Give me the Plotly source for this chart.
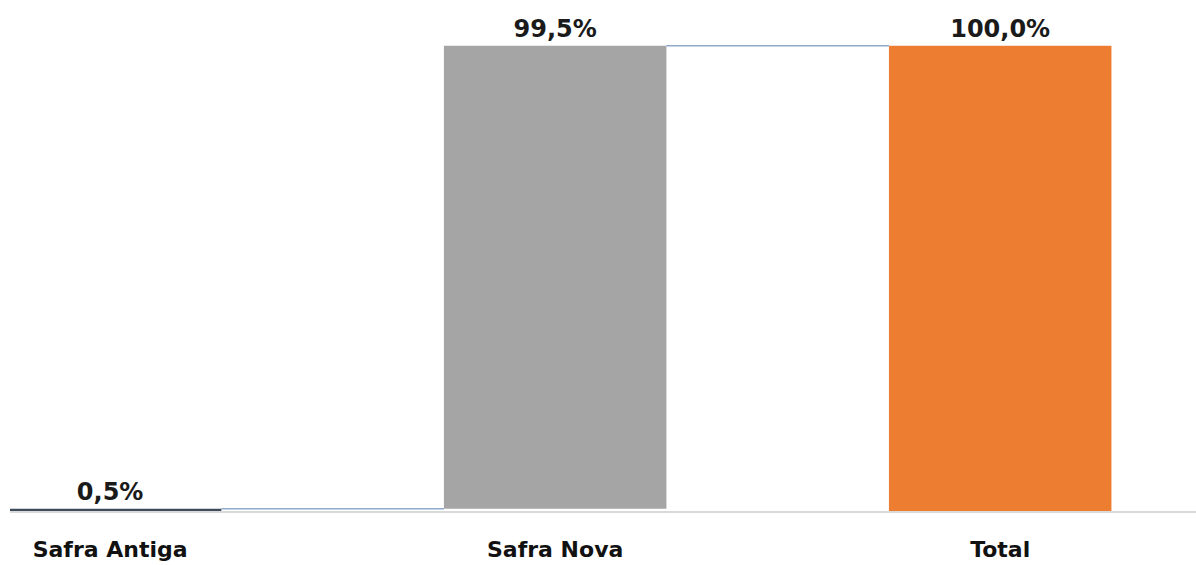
import plotly.graph_objects as go

categories = ["Safra Antiga", "Safra Nova", "Total"]
values = [0.5, 99.5, 100.0]
measures = ["relative", "relative", "total"]
labels = ["0,5%", "99,5%", "100,0%"]
colors = ["#3f4b5b", "#a5a5a5", "#ed7d31"]

# compute bases from cumulative
bases = []
heights = []
cum = 0.0
for v, m in zip(values, measures):
    if m == "total":
        bases.append(0.0)
        heights.append(v)
        cum = v
    else:
        bases.append(cum)
        heights.append(v)
        cum += v

xs = list(range(len(categories)))
bw = 0.5
FONT = "DejaVu Sans"

fig = go.Figure()
fig.add_trace(go.Bar(
    x=xs, y=heights, base=bases, width=bw,
    marker=dict(color=colors, line=dict(width=0)),
    text=labels, textposition="outside", cliponaxis=False,
    textfont=dict(family=FONT, size=24, color="#1a1a1a", weight="bold"),
    hoverinfo="skip",
))

shapes = []
tops = [b + h for b, h in zip(bases, heights)]
for i in range(len(xs) - 1):
    shapes.append(dict(type="line", xref="x", yref="y",
                       x0=xs[i] + bw / 2, x1=xs[i + 1] - bw / 2,
                       y0=tops[i], y1=tops[i],
                       line=dict(color="#8eaacb", width=1.5), layer="above"))

fig.update_layout(
    width=1196, height=565,
    margin=dict(l=10, r=0, t=4, b=54),
    paper_bgcolor="white", plot_bgcolor="white",
    showlegend=False,
    shapes=shapes,
    xaxis=dict(range=[-0.225, 2.44], tickvals=xs, ticktext=categories,
               showgrid=False, zeroline=False, showline=True,
               linecolor="#d9d9d9", linewidth=1.5, ticks="",
               ticklabelstandoff=18, automargin=False,
               tickfont=dict(family=FONT, size=22, color="#111111", weight="bold")),
    yaxis=dict(range=[0, 109], visible=False, showgrid=False, zeroline=False,
               automargin=False),
    font=dict(family=FONT),
)
fig.write_html("out.html", config={"displayModeBar": False},
               post_script="document.body.style.margin='0';document.body.style.overflow='hidden';")
